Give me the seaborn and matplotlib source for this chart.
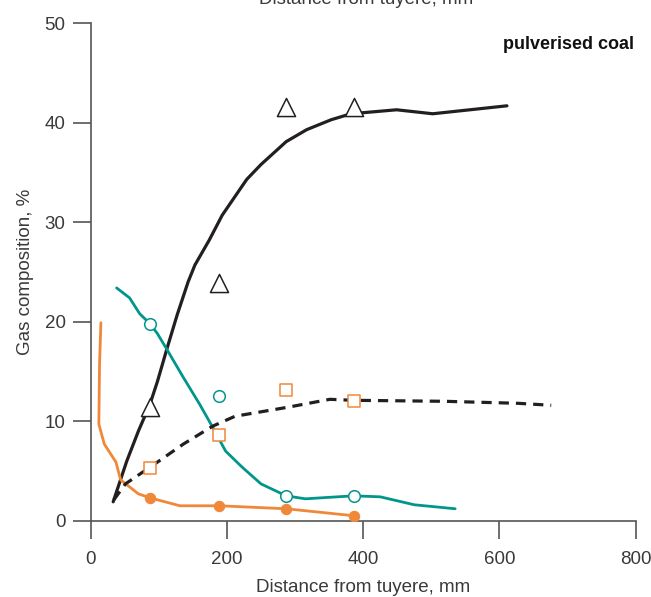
import numpy as np
import pandas as pd
import matplotlib
matplotlib.use("Agg")
import matplotlib.pyplot as plt
import seaborn as sns

# distance from tuyere (mm) and gas composition (%)
co_x = [33, 53, 70, 87, 98, 112, 127, 143, 153, 174, 193, 229, 250, 287, 317, 353, 382, 449, 502, 611]
co_y = [1.9, 6.0, 9.0, 11.7, 14.0, 17.3, 20.7, 24.0, 25.7, 28.2, 30.7, 34.3, 35.8, 38.1, 39.3, 40.3, 40.9, 41.3, 40.9, 41.7]

co2_x = [38, 57, 72, 87, 98, 112, 136, 160, 179, 198, 222, 250, 287, 315, 386, 425, 475, 535]
co2_y = [23.4, 22.4, 20.8, 19.8, 18.8, 17.2, 14.4, 11.7, 9.4, 7.0, 5.4, 3.7, 2.5, 2.2, 2.5, 2.4, 1.6, 1.2]

h2_x = [34, 51, 94, 136, 179, 212, 289, 351, 386, 520, 627, 676]
h2_y = [2.1, 3.7, 5.7, 7.7, 9.5, 10.5, 11.4, 12.2, 12.1, 12.0, 11.8, 11.6]

o2_x = [15, 13, 12, 20, 37, 44, 70, 87, 131, 189, 287, 386]
o2_y = [19.9, 15.7, 9.7, 7.7, 5.9, 4.1, 2.7, 2.3, 1.5, 1.5, 1.2, 0.5]

meas_x = [87, 189, 287, 386]
co_meas = [11.4, 23.9, 41.6, 41.6]
co2_meas = [19.8, 12.5, 2.5, 2.5]
h2_meas = [5.3, 8.6, 13.1, 12.0]
o2_meas = [2.3, 1.5, 1.2, 0.5]

x_ticks = [0, 200, 400, 600, 800]
y_ticks = [0, 10, 20, 30, 40, 50]

black = "#231f20"
teal = "#00968c"
orange = "#f0883a"
grey = "#555555"
text_col = "#3a3a3a"

sns.set_style("white")
plt.rcParams["font.family"] = ["Liberation Sans", "DejaVu Sans"]

fig = plt.figure(figsize=(6.51, 5.97), dpi=100)
ax = fig.add_axes([0.1393, 0.1278, 0.8372, 0.8333])

line_args = dict(ax=ax, sort=False, estimator=None, legend=False)
sns.lineplot(x=co_x, y=co_y, color=black, lw=2.3, **line_args)
sns.lineplot(x=co2_x, y=co2_y, color=teal, lw=2.0, **line_args)
sns.lineplot(x=o2_x, y=o2_y, color=orange, lw=2.0, **line_args)
h2 = sns.lineplot(x=h2_x, y=h2_y, color=black, lw=2.3, **line_args)
h2.lines[-1].set_dashes((3.2, 2.2))

sns.scatterplot(x=meas_x, y=co_meas, ax=ax, marker="^", s=170, facecolor="white",
                edgecolor=black, linewidth=1.1, zorder=5)
sns.scatterplot(x=meas_x, y=co2_meas, ax=ax, marker="o", s=70, facecolor="white",
                edgecolor=teal, linewidth=1.1, zorder=5)
sns.scatterplot(x=meas_x, y=h2_meas, ax=ax, marker="s", s=70, facecolor="white",
                edgecolor=orange, linewidth=1.1, zorder=5)
sns.scatterplot(x=meas_x, y=o2_meas, ax=ax, marker="o", s=55, color=orange,
                edgecolor=orange, linewidth=0.8, zorder=5)

ax.set_xlim(0, 800)
ax.set_ylim(0, 50)
ax.set_xticks(x_ticks)
ax.set_yticks(y_ticks)
ax.tick_params(axis="both", direction="out", length=13, width=1.2, color=grey,
               labelsize=13.5, labelcolor=text_col, pad=5, bottom=True, left=True)
ax.tick_params(axis="x", pad=9)
sns.despine(ax=ax)
for side in ["left", "bottom"]:
    ax.spines[side].set_color(grey)
    ax.spines[side].set_linewidth(1.2)

ax.set_xlabel("Distance from tuyere, mm", fontsize=13.5, color=text_col, labelpad=8)
ax.set_ylabel("Gas composition, %", fontsize=13.5, color=text_col, labelpad=8)

fig.text(0.974, 0.925, "pulverised coal", ha="right", va="center",
         fontsize=13, fontweight="bold", color="#111111")
# heading that is cut off at the top edge in the original
fig.text(0.562, 0.9935, "Distance from tuyere, mm", ha="center", va="baseline",
         fontsize=13.5, color=text_col)

fig.savefig("out.png", dpi=100)
